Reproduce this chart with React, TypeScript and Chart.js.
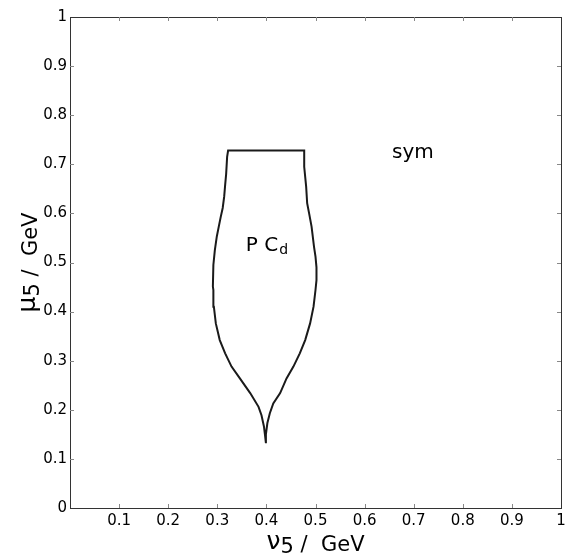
import React, { useEffect, useRef } from "react";
import { Chart, registerables } from "chart.js";

Chart.register(...registerables);

// Boundary of the PC_d region (nu5, mu5) in GeV, traced from stem bottom, up the left side, across the top, down the right side
const leftNu = [0.399, 0.397, 0.395, 0.390, 0.384, 0.367, 0.346, 0.329, 0.316, 0.305, 0.297, 0.293, 0.292, 0.291, 0.292, 0.295, 0.299, 0.303, 0.307, 0.311, 0.314, 0.316, 0.318, 0.320, 0.322];
const leftMu = [0.132, 0.150, 0.166, 0.189, 0.206, 0.234, 0.264, 0.288, 0.315, 0.342, 0.376, 0.410, 0.444, 0.451, 0.495, 0.525, 0.553, 0.573, 0.593, 0.611, 0.634, 0.658, 0.680, 0.715, 0.728];
const rightNu = [0.477, 0.477, 0.481, 0.483, 0.487, 0.492, 0.497, 0.500, 0.502, 0.502, 0.500, 0.496, 0.489, 0.479, 0.468, 0.455, 0.441, 0.428, 0.414, 0.407, 0.402, 0.399, 0.399];
const rightMu = [0.728, 0.695, 0.654, 0.621, 0.600, 0.573, 0.532, 0.512, 0.490, 0.464, 0.444, 0.410, 0.376, 0.342, 0.315, 0.288, 0.264, 0.234, 0.213, 0.193, 0.173, 0.150, 0.132];

const tickValues = [0.1, 0.2, 0.3, 0.4, 0.5, 0.6, 0.7, 0.8, 0.9];

const labels = [
  { text: "sym", nu: 0.656, mu: 0.713 },
];
const pcLabel = { main: "P C", sub: "d", nu: 0.358, mu: 0.524 };

const FONT = "'DejaVu Sans', sans-serif";

function fmt(v: number): string {
  const r = Math.round(v * 10) / 10;
  return r.toString();
}

const decorPlugin = {
  id: "decor",
  afterDraw(chart: any) {
    const ctx = chart.ctx as CanvasRenderingContext2D;
    const { left, right, top, bottom } = chart.chartArea;
    const xs = chart.scales.x;
    const ys = chart.scales.y;
    ctx.save();
    // box
    ctx.strokeStyle = "#333";
    ctx.lineWidth = 1;
    ctx.strokeRect(Math.round(left) + 0.5, Math.round(top) + 0.5, Math.round(right - left), Math.round(bottom - top));
    // inner ticks on all sides
    ctx.strokeStyle = "#888";
    ctx.beginPath();
    for (const v of tickValues) {
      const px = Math.round(xs.getPixelForValue(v)) + 0.5;
      ctx.moveTo(px, bottom);
      ctx.lineTo(px, bottom - 4);
      ctx.moveTo(px, top);
      ctx.lineTo(px, top + 4);
      const py = Math.round(ys.getPixelForValue(v)) + 0.5;
      ctx.moveTo(left, py);
      ctx.lineTo(left + 4, py);
      ctx.moveTo(right, py);
      ctx.lineTo(right - 4, py);
    }
    ctx.stroke();

    ctx.fillStyle = "#000";
    ctx.textBaseline = "alphabetic";
    ctx.textAlign = "left";
    // annotations
    for (const l of labels) {
      ctx.font = `20px ${FONT}`;
      ctx.fillText(l.text, xs.getPixelForValue(l.nu), ys.getPixelForValue(l.mu));
    }
    {
      const x0 = xs.getPixelForValue(pcLabel.nu);
      const y0 = ys.getPixelForValue(pcLabel.mu);
      ctx.font = `20px ${FONT}`;
      ctx.fillText(pcLabel.main, x0, y0);
      const w = ctx.measureText(pcLabel.main).width;
      ctx.font = `14px ${FONT}`;
      ctx.fillText(pcLabel.sub, x0 + w + 1, y0 + 3);
    }

    // axis titles
    const drawTitle = (sym: string, cx: number, base: number) => {
      const parts = [
        { t: sym, size: 25, dy: -2 },
        { t: "5", size: 21, dy: 2 },
        { t: " /  ", size: 21, dy: 0 },
        { t: "GeV", size: 21, dy: 0 },
      ];
      let total = 0;
      const widths: number[] = [];
      for (const p of parts) {
        ctx.font = `${p.size}px ${FONT}`;
        const w = ctx.measureText(p.t).width;
        widths.push(w);
        total += w;
      }
      let x = cx - total / 2;
      parts.forEach((p, i) => {
        ctx.font = `${p.size}px ${FONT}`;
        ctx.fillText(p.t, x, base + p.dy);
        x += widths[i];
      });
    };
    drawTitle("ν", (left + right) / 2, bottom + 43);
    ctx.translate(left - 33, (top + bottom) / 2);
    ctx.rotate(-Math.PI / 2);
    drawTitle("μ", 0, 0);
    ctx.restore();
  },
};

export default function App() {
  const ref = useRef<HTMLCanvasElement | null>(null);
  useEffect(() => {
    if (!ref.current) return;
    const pts = [
      ...leftNu.map((x, i) => ({ x, y: leftMu[i] })),
      ...rightNu.map((x, i) => ({ x, y: rightMu[i] })),
    ];
    const chart = new Chart(ref.current, {
      type: "scatter",
      data: {
        datasets: [
          {
            data: pts,
            showLine: true,
            pointRadius: 0,
            borderColor: "#1a1a1a",
            borderWidth: 2,
            fill: false,
            tension: 0,
          },
        ],
      },
      options: {
        responsive: false,
        animation: false,
        layout: { padding: { top: 17, right: 19, left: 0, bottom: 0 } },
        plugins: { legend: { display: false }, tooltip: { enabled: false } },
        scales: {
          x: {
            type: "linear",
            min: 0,
            max: 1,
            grid: { display: false, drawTicks: false },
            border: { display: false },
            ticks: {
              stepSize: 0.1,
              autoSkip: false,
              maxRotation: 0,
              padding: 4,
              color: "#000",
              font: { family: FONT, size: 15 },
              callback: (v: any) => (Number(v) === 0 ? "" : fmt(Number(v))),
            },
            afterFit: (s: any) => {
              s.height = 48;
            },
          },
          y: {
            type: "linear",
            min: 0,
            max: 1,
            grid: { display: false, drawTicks: false },
            border: { display: false },
            ticks: {
              stepSize: 0.1,
              autoSkip: false,
              padding: 3,
              color: "#000",
              font: { family: FONT, size: 15 },
              callback: (v: any) => fmt(Number(v)),
            },
            afterFit: (s: any) => {
              s.width = 70;
            },
          },
        },
      },
      plugins: [decorPlugin],
    });
    return () => chart.destroy();
  }, []);
  return (
    <div style={{ position: "fixed", left: 0, top: 0, width: 580, height: 556, background: "#fff" }}>
      <canvas ref={ref} width={580} height={556} />
    </div>
  );
}
